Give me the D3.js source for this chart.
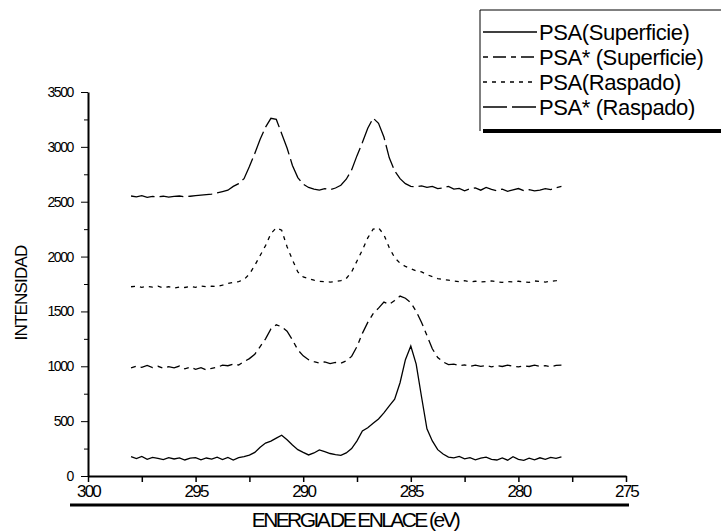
<!DOCTYPE html>
<html>
<head>
<meta charset="utf-8">
<script src="https://cdn.jsdelivr.net/npm/d3@7"></script>
<style>
  body { margin: 0; background: #fff; }
  svg { display: block; font-family: "Liberation Sans", Arial, sans-serif; }
</style>
</head>
<body>
<div id="chart"></div>
<script>
let width = 721;
let height = 531;

// binding energy grid, 298 eV down to 278 eV every 0.25 eV
let energies = d3.range(0, 81).map(i => 298 - i * 0.25);

// PSA(Superficie) - solid
let psaSup = [176, 158, 178, 152, 170, 160, 150, 168, 155, 165, 146, 162, 168, 148, 164, 154,
  172, 150, 170, 146, 168, 176, 190, 215, 262, 300, 318, 345, 372, 330, 282, 240,
  215, 192, 210, 238, 222, 205, 195, 188, 210, 250, 320, 410, 440, 480, 520, 575,
  640, 700, 850, 1060, 1185, 1020, 720, 430, 320, 240, 200, 172, 165, 178, 156, 168,
  148, 162, 172, 152, 146, 165, 144, 176, 152, 142, 162, 148, 166, 152, 170, 160, 174];
// PSA* (Superficie)
let psaStarSup = [985, 1002, 990, 1008, 988, 1000, 982, 996, 986, 1002, 976, 992, 972, 988, 966, 982,
  990, 1010, 1005, 1020, 1012, 1042, 1070, 1110, 1180, 1250, 1340, 1378, 1360, 1320, 1240, 1150,
  1095, 1060, 1042, 1030, 1040, 1025, 1035, 1028, 1050, 1090, 1180, 1300, 1400, 1480, 1530, 1585,
  1565, 1600, 1640, 1620, 1580, 1500, 1400, 1280, 1160, 1080, 1040, 1015, 1020, 1005, 1012, 998,
  1010, 1000, 1008, 995, 1005, 998, 1010, 1000, 995, 1005, 998, 1010, 1000, 1005, 995, 1008, 1010];
// PSA(Raspado)
let psaRas = [1725, 1730, 1720, 1728, 1722, 1730, 1715, 1725, 1712, 1722, 1718, 1728, 1720, 1732, 1725, 1730,
  1728, 1740, 1755, 1765, 1772, 1790, 1840, 1920, 2010, 2100, 2210, 2262, 2240, 2090, 1970, 1860,
  1815, 1800, 1785, 1775, 1770, 1768, 1772, 1780, 1800, 1860, 1960, 2060, 2170, 2250, 2262, 2200,
  2080, 1990, 1940, 1910, 1890, 1870, 1860, 1835, 1818, 1800, 1790, 1785, 1778, 1772, 1780, 1770,
  1775, 1768, 1772, 1778, 1770, 1765, 1772, 1768, 1775, 1770, 1765, 1778, 1772, 1768, 1775, 1780, 1788];
// PSA* (Raspado)
let psaStarRas = [2552, 2545, 2555, 2540, 2548, 2545, 2550, 2542, 2548, 2552, 2545, 2550, 2555, 2560, 2565, 2570,
  2580, 2592, 2605, 2640, 2665, 2710, 2820, 2940, 3070, 3180, 3260, 3250, 3120, 2990, 2830, 2720,
  2660, 2630, 2615, 2605, 2620, 2610, 2625, 2650, 2705, 2790, 2920, 3040, 3170, 3262, 3215, 3090,
  2900, 2780, 2710, 2665, 2640, 2635, 2645, 2630, 2640, 2620, 2625, 2640, 2615, 2622, 2600, 2618,
  2625, 2605, 2630, 2612, 2600, 2615, 2595, 2608, 2620, 2600, 2610, 2598, 2605, 2620, 2610, 2628, 2640];

let seriesNames = ["PSA(Superficie)", "PSA* (Superficie)", "PSA(Raspado)", "PSA* (Raspado)"];
let seriesValues = [psaSup, psaStarSup, psaRas, psaStarRas];
let dashes = [null, "5,5,13,5", "4,5", "24,5"];

let xTicks = [300, 297.5, 295, 292.5, 290, 287.5, 285, 282.5, 280, 277.5, 275];
let yTicks = [0, 500, 1000, 1500, 2000, 2500, 3000, 3500];
let yMinor = [250, 750, 1250, 1750, 2250, 2750, 3250];

let svg = d3.select("#chart").append("svg")
  .attr("width", width)
  .attr("height", height);

let x = d3.scaleLinear().domain([300, 275]).range([88, 626]);
let y = d3.scaleLinear().domain([0, 3500]).range([476, 92]);

// x axis
let xAxis = svg.append("g")
  .attr("class", "xaxis axis")
  .attr("transform", "translate(0,476)")
  .call(d3.axisBottom(x).tickValues(xTicks).tickSize(6).tickPadding(3).tickSizeOuter(0)
    .tickFormat(d => d % 5 === 0 ? d : ""));
xAxis.select(".domain").attr("stroke-width", 2);
xAxis.selectAll(".tick line").attr("stroke-width", 1.5);
xAxis.selectAll(".tick text")
  .style("font-size", "17px")
  .style("letter-spacing", "-1.8px")
  .attr("fill", "#000");

// y axis
let yAxis = svg.append("g")
  .attr("class", "yaxis axis")
  .attr("transform", "translate(88,0)")
  .call(d3.axisLeft(y).tickValues(yTicks).tickSize(7).tickPadding(8).tickSizeOuter(0)
    .tickFormat(d3.format("d")));
yAxis.select(".domain").attr("stroke-width", 2);
yAxis.selectAll(".tick text")
  .style("font-size", "14px")
  .style("letter-spacing", "-1.4px")
  .attr("fill", "#000");
let yMinorAxis = svg.append("g")
  .attr("transform", "translate(88,0)")
  .call(d3.axisLeft(y).tickValues(yMinor).tickSize(4).tickFormat(""));
yMinorAxis.select(".domain").remove();

// axis titles
svg.append("text")
  .attr("transform", "translate(27,293) rotate(-90)")
  .attr("text-anchor", "middle")
  .style("font-size", "17px")
  .style("letter-spacing", "-0.8px")
  .text("INTENSIDAD");

svg.append("line")
  .attr("x1", 70).attr("x2", 629)
  .attr("y1", 505).attr("y2", 505)
  .attr("stroke", "#000")
  .attr("stroke-width", 3);

svg.append("text")
  .attr("x", 355)
  .attr("y", 527)
  .attr("text-anchor", "middle")
  .style("font-size", "21px")
  .style("letter-spacing", "-2.6px")
  .text("ENERGIA DE ENLACE (eV)");

// curves
let line = d3.line()
  .x((d, i) => x(energies[i]))
  .y(d => y(d));

svg.append("g")
  .attr("class", "curves")
  .selectAll("path")
  .data(seriesValues)
  .enter()
  .append("path")
  .attr("d", line)
  .attr("fill", "none")
  .attr("stroke", "#000")
  .attr("stroke-width", 1.3)
  .attr("stroke-dasharray", (d, i) => dashes[i]);

// legend
let legend = svg.append("g").attr("class", "legend");
legend.append("line")
  .attr("x1", 480).attr("x2", 480).attr("y1", 10).attr("y2", 131)
  .attr("stroke", "#000").attr("stroke-width", 1);
legend.append("line")
  .attr("x1", 480).attr("x2", 721).attr("y1", 10).attr("y2", 10)
  .attr("stroke", "#000").attr("stroke-width", 1);
legend.append("line")
  .attr("x1", 483).attr("x2", 721).attr("y1", 131).attr("y2", 131)
  .attr("stroke", "#000").attr("stroke-width", 4);

let rows = legend.selectAll("g.row")
  .data(seriesNames)
  .enter()
  .append("g")
  .attr("class", "row")
  .attr("transform", (d, i) => "translate(0," + (32 + i * 25) + ")");
rows.append("line")
  .attr("x1", 483).attr("x2", 537)
  .attr("stroke", "#000")
  .attr("stroke-width", 1.3)
  .attr("stroke-dasharray", (d, i) => dashes[i]);
rows.append("text")
  .attr("x", 539)
  .attr("dy", "0.35em")
  .style("font-size", "22px")
  .style("letter-spacing", "-0.4px")
  .text(d => d);
</script>
</body>
</html>
